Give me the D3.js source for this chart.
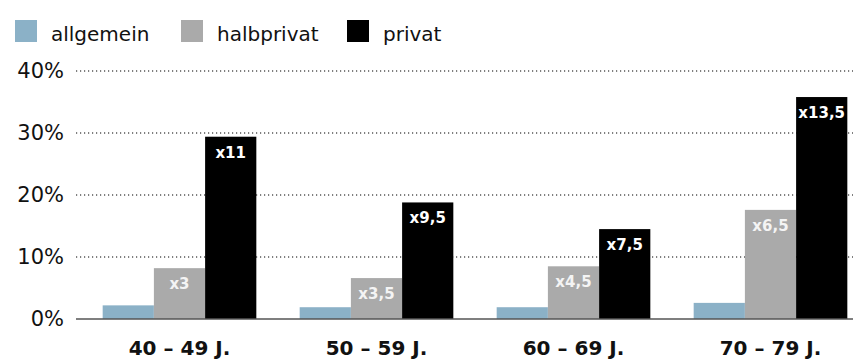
<!DOCTYPE html>
<html>
<head>
<meta charset="utf-8">
<script src="https://cdn.jsdelivr.net/npm/d3@7"></script>
<style>
  body { margin: 0; background: #fff; }
  svg { display: block; font-family: "DejaVu Sans", sans-serif; }
</style>
</head>
<body>
<svg id="chart" width="853" height="361"></svg>
<script>
// data
const ageGroups = ["40 – 49 J.", "50 – 59 J.", "60 – 69 J.", "70 – 79 J."];
const seriesNames = ["allgemein", "halbprivat", "privat"];
const seriesColors = ["#8bb1c7", "#aaaaaa", "#000000"];
const allgemein = [2.2, 1.9, 1.9, 2.6];
const halbprivat = [8.2, 6.6, 8.5, 17.6];
const privat = [29.4, 18.8, 14.5, 35.8];
const halbprivatLabels = ["x3", "x3,5", "x4,5", "x6,5"];
const privatLabels = ["x11", "x9,5", "x7,5", "x13,5"];
const yTicks = [0, 10, 20, 30, 40];

const svg = d3.select("#chart");
const width = 853;
const gridLeft = 76;
const baseY = 319;

const x0 = d3.scaleBand()
  .domain(ageGroups)
  .range([81, 869])
  .paddingInner(0.22)
  .paddingOuter(0.11);

const x1 = d3.scaleBand()
  .domain(seriesNames)
  .range([0, x0.bandwidth()]);

const y = d3.scaleLinear().domain([0, 40]).range([baseY, 71]);

const color = d3.scaleOrdinal().domain(seriesNames).range(seriesColors);

// legend
const legend = svg.append("g");
const legendX = [15, 181, 347];
seriesNames.forEach((name, i) => {
  legend.append("rect")
    .attr("x", legendX[i])
    .attr("y", 20)
    .attr("width", 22)
    .attr("height", 22)
    .attr("fill", color(name));
  legend.append("text")
    .attr("x", legendX[i] + 36)
    .attr("y", 41)
    .attr("font-size", 20)
    .attr("fill", "#111")
    .text(name);
});

// gridlines + tick labels
const grid = svg.append("g");
yTicks.filter(t => t > 0).forEach(t => {
  grid.append("line")
    .attr("x1", gridLeft)
    .attr("x2", width)
    .attr("y1", y(t))
    .attr("y2", y(t))
    .attr("stroke", "#000")
    .attr("stroke-width", 1.2)
    .attr("stroke-dasharray", "1.2,2.8");
});
yTicks.forEach(t => {
  grid.append("text")
    .attr("x", 64)
    .attr("y", y(t) + 7)
    .attr("text-anchor", "end")
    .attr("font-size", 21)
    .attr("fill", "#111")
    .text(t + "%");
});

// bars
const rows = ageGroups.map((g, i) => ({
  group: g,
  values: [
    { key: "allgemein", value: allgemein[i], label: "" },
    { key: "halbprivat", value: halbprivat[i], label: halbprivatLabels[i] },
    { key: "privat", value: privat[i], label: privatLabels[i] },
  ],
}));

const groups = svg.append("g")
  .selectAll("g")
  .data(rows)
  .join("g")
  .attr("transform", d => "translate(" + x0(d.group) + ",0)");

groups.selectAll("rect")
  .data(d => d.values)
  .join("rect")
  .attr("x", d => x1(d.key))
  .attr("y", d => y(d.value))
  .attr("width", x1.bandwidth())
  .attr("height", d => baseY - y(d.value))
  .attr("fill", d => color(d.key));

groups.selectAll("text.val")
  .data(d => d.values.filter(v => v.label))
  .join("text")
  .attr("class", "val")
  .attr("x", d => x1(d.key) + x1.bandwidth() / 2)
  .attr("y", d => y(d.value) + 21)
  .attr("text-anchor", "middle")
  .attr("font-size", 15)
  .attr("font-weight", "bold")
  .attr("fill", d => d.key === "privat" ? "#fff" : "#f4f4f4")
  .text(d => d.label);

// baseline
svg.append("line")
  .attr("x1", gridLeft)
  .attr("x2", width)
  .attr("y1", baseY)
  .attr("y2", baseY)
  .attr("stroke", "#555")
  .attr("stroke-width", 1.5);

// category labels
svg.append("g")
  .selectAll("text")
  .data(ageGroups)
  .join("text")
  .attr("x", d => x0(d) + x0.bandwidth() / 2)
  .attr("y", 355)
  .attr("text-anchor", "middle")
  .attr("font-size", 20)
  .attr("font-weight", "bold")
  .attr("fill", "#111")
  .text(d => d);
</script>
</body>
</html>
